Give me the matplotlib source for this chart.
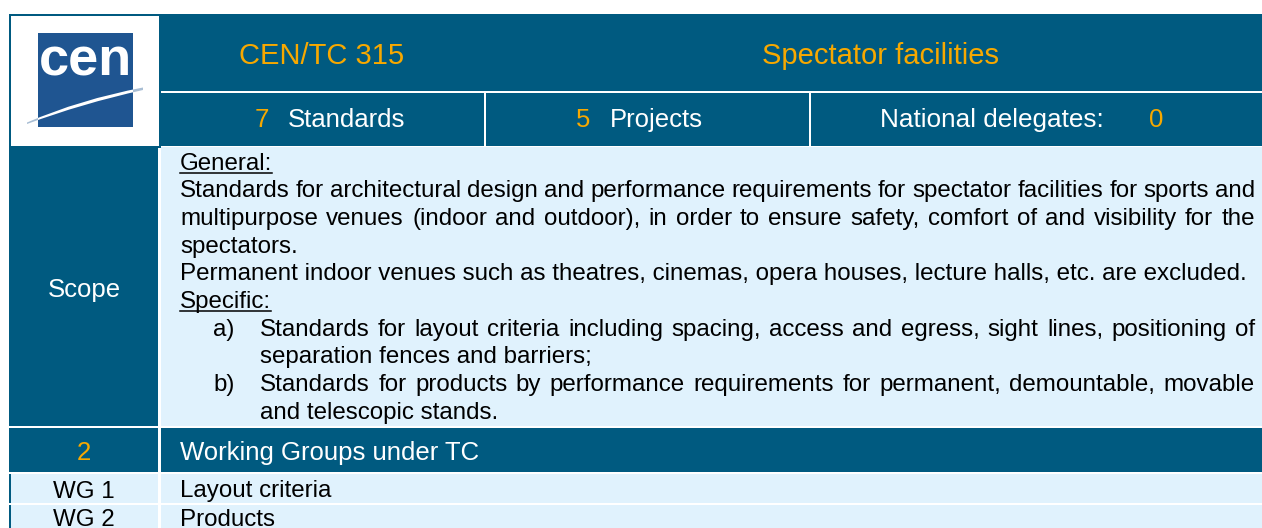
import matplotlib
matplotlib.use("Agg")
import matplotlib.pyplot as plt
from matplotlib.patches import Rectangle, PathPatch
from matplotlib.path import Path

plt.rcParams['font.family'] = ['Liberation Sans', 'DejaVu Sans']

# table content
tc_code = "CEN/TC 315"
tc_title = "Spectator facilities"
n_standards = 7
n_projects = 5
n_delegates = 0
n_wgs = 2

general_lines = [
    "Standards for architectural design and performance requirements for spectator facilities for sports and",
    "multipurpose venues (indoor and outdoor), in order to ensure safety, comfort of and visibility for the",
    "spectators.",
    "Permanent indoor venues such as theatres, cinemas, opera houses, lecture halls, etc. are excluded.",
]
general_justify = [True, True, False, False]

specific_labels = ["a)", "b)"]
specific_lines = [
    ["Standards for layout criteria including spacing, access and egress, sight lines, positioning of",
     "separation fences and barriers;"],
    ["Standards for products by performance requirements for permanent, demountable, movable",
     "and telescopic stands."],
]

wg_ids = ["WG 1", "WG 2"]
wg_names = ["Layout criteria", "Products"]

DARK = "#005A80"
ORANGE = "#F7A800"
LIGHT = "#E0F2FD"
LOGO = "#1F5591"

W, H = 1262, 528
fig = plt.figure(figsize=(W / 100, H / 100), dpi=100)
ax = fig.add_axes([0, 0, 1, 1])
ax.set_xlim(0, W)
ax.set_ylim(H, 0)
ax.axis('off')
renderer = fig.canvas.get_renderer()


def box(x0, y0, x1, y1, color, z=1):
    ax.add_patch(Rectangle((x0, y0), x1 - x0, y1 - y0, facecolor=color,
                           edgecolor='none', zorder=z))


def put(x, y, s, size, color='black', ha='left'):
    return ax.text(x, y, s, fontsize=size, color=color, ha=ha, va='baseline', zorder=5)


def justified(line, x0, x1, y, size, justify=True):
    if not justify:
        return put(x0, y, line, size)
    words = line.split(" ")
    texts = [put(0, y, w, size) for w in words]
    widths = [t.get_window_extent(renderer).width for t in texts]
    gap = (x1 - x0 - sum(widths)) / (len(words) - 1)
    x = x0
    for t, w in zip(texts, widths):
        t.set_x(x)
        x += w + gap


def underlined(x, y, s, size):
    t = put(x, y, s, size)
    w = t.get_window_extent(renderer).width
    ax.plot([x, x + w], [y + 3, y + 3], color='black', lw=1.1, zorder=5)


# --- cell backgrounds ---
# logo cell
box(9, 14, 161, 148, DARK)
box(11, 16, 159, 146, 'white', z=1.5)
# header rows
box(161, 14, W, 90.5, DARK)
box(161, 92.5, 484, 146, DARK)
box(486, 92.5, 809, 146, DARK)
box(811, 92.5, W, 146, DARK)
# scope row
box(9, 148, 158, 425.5, DARK)
box(161, 147, W, 425.5, LIGHT)
# working groups header
box(9, 427.5, 158, 472, DARK)
box(161, 427.5, W, 472, DARK)
# working group rows
wg_tops = [473.5, 505]
wg_bottoms = [502.5, 540]
for top, bot in zip(wg_tops, wg_bottoms):
    box(9, top, 158, bot, DARK)
    box(10.5, top, 158, bot, LIGHT, z=1.2)
    box(161, top, W, bot, LIGHT)

# --- logo ---
sw_verts = [(27, 122.5), (80, 99.5), (143, 87.5), (143, 90), (82, 103.5), (27, 124)]
sw_codes = [Path.MOVETO, Path.CURVE3, Path.CURVE3, Path.LINETO, Path.CURVE3, Path.CURVE3]
ax.add_patch(PathPatch(Path(sw_verts + [(27, 122.5)], sw_codes + [Path.CLOSEPOLY]),
                       facecolor='#A9BED4', edgecolor='none', zorder=2))
sq = Rectangle((38, 33), 95, 94, facecolor=LOGO, edgecolor='none', zorder=3)
ax.add_patch(sq)
white_sw = PathPatch(Path(sw_verts + [(27, 122.5)], sw_codes + [Path.CLOSEPOLY]),
                     facecolor='white', edgecolor='none', zorder=4)
ax.add_patch(white_sw)
white_sw.set_clip_path(sq)
ax.text(39, 76, "cen", fontsize=39, fontweight='bold', color='white',
        ha='left', va='baseline', zorder=4)

# --- header text ---
put(322, 64, tc_code, 21, ORANGE, ha='center')
put(880, 64, tc_title, 21, ORANGE, ha='center')

put(262, 127, str(n_standards), 18.5, ORANGE, ha='center')
put(288, 127, "Standards", 18.5, 'white')
put(583, 127, str(n_projects), 18.5, ORANGE, ha='center')
put(610, 127, "Projects", 18.5, 'white')
put(880, 127, "National delegates:", 18.8, 'white')
put(1156, 127, str(n_delegates), 18.5, ORANGE, ha='center')

# --- scope ---
put(84, 296.5, "Scope", 18.5, 'white', ha='center')
left, right = 180, 1255
y0, step = 169.5, 27.7
size = 17.4
row = 0
underlined(left, y0 + step * row, "General:", size)
row += 1
for line, just in zip(general_lines, general_justify):
    justified(line, left, right, y0 + step * row, size, just)
    row += 1
underlined(left, y0 + step * row, "Specific:", size)
row += 1
for label, lines in zip(specific_labels, specific_lines):
    put(213, y0 + step * row, label, size)
    for i, line in enumerate(lines):
        justified(line, 260, right, y0 + step * row, size, i < len(lines) - 1)
        row += 1

# --- working groups ---
put(84, 460, str(n_wgs), 18.5, ORANGE, ha='center')
put(180, 460, "Working Groups under TC", 18.5, 'white')
wg_base = [497.5, 525.5]
for wid, name, yb in zip(wg_ids, wg_names, wg_base):
    put(84, yb, wid, 17.4, ha='center')
    put(180, yb, name, 17.4)

fig.savefig("out.png", dpi=100)
